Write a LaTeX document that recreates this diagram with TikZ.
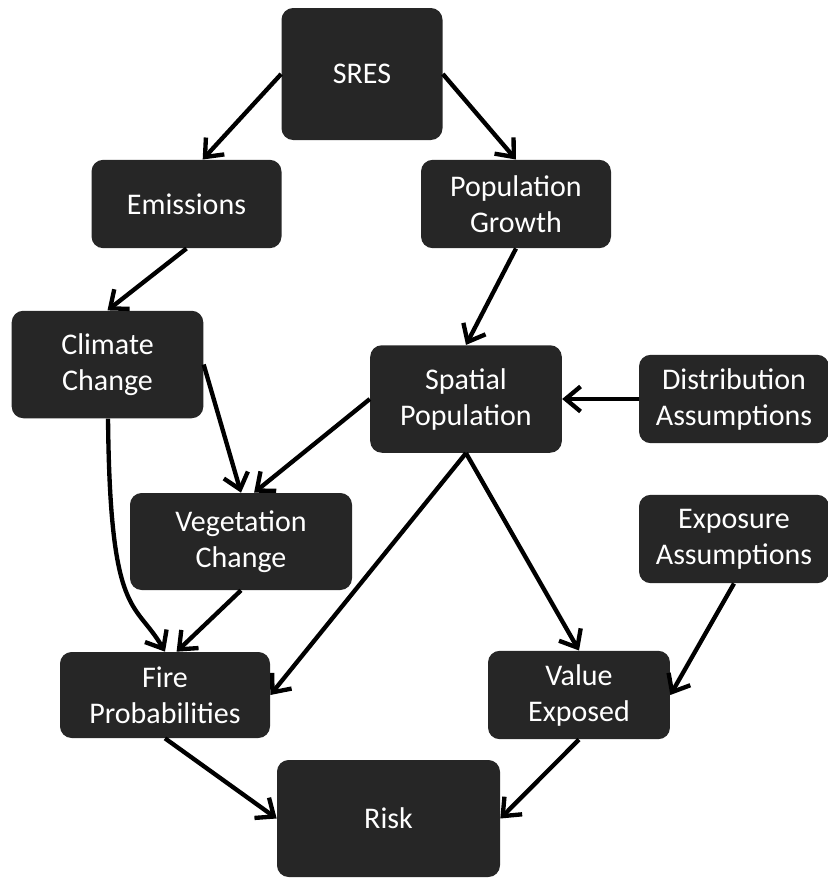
\documentclass[tikz,border=0pt]{standalone}
\usepackage{fontspec}
\setmainfont{Carlito}
\usepackage{tikz}
\usetikzlibrary{arrows,arrows.meta,calc,positioning,shapes}
\tikzstyle{box}=[rectangle, rounded corners=7pt, fill=black!85, text=white, align=center, inner sep=2pt, font=\fontsize{18}{21.6}\selectfont]
\tikzstyle{boxA}=[box, minimum width=114pt, minimum height=53pt]
\tikzstyle{boxB}=[box, minimum width=115pt, minimum height=64.5pt]
\tikzstyle{boxC}=[box, minimum width=130pt, minimum height=56pt]
\tikzset{%
    link/.style={->, >={Straight Barb[length=9pt,width=15pt]}, line width=2.6pt},
  }

\begin{document}
\begin{tikzpicture}[x=0.6pt, y=-0.6pt, node distance=2em]
    \useasboundingbox (0,0) rectangle (828,878);
    \node (sres) [box, minimum width=96.6pt, minimum height=79.2pt] at (362,74) {SRES};
    \node (emis) [boxA] at (186.5,204) {Emissions};
    \node (popg) [boxA, node distance=197.7pt, right of=emis] {Population\\Growth};
    %
    \node (clim) [boxB] at (107.5,364.5) {Climate\\Change};
    \node (spat) [boxB] at (466,399) {Spatial\\Population};
    \node (dist) [boxA, node distance=160.8pt, right of=spat] {Distribution\\Assumptions};
    \node (expo) [boxA, node distance=84pt, below of=dist] {Exposure\\Assumptions};
    %
    \node (veg) [boxC, minimum width=133.2pt, minimum height=58.2pt] at (241,541.5) {Vegetation\\Change};
    \node (fire) [boxC, minimum width=126pt, minimum height=51.6pt] at (165,695) {Fire\\Probabilities};
    \node (val) [boxA, minimum width=109.2pt, node distance=248.4pt, right of=fire] {Value\\Exposed};
    \node (risk) [box, minimum width=133.8pt, minimum height=70.2pt] at (388.5,818.5) {Risk};
    %
    \path[link] (sres.west) edge (emis.70);
    \path[link] (sres.east) edge (popg.north);
    \path[link] (emis.south) edge (clim.north);
    \path[link] (popg.south) edge (spat.north);
    \path[link] (dist.west) edge (spat.east);
    %
    \path[link] (clim.east) edge (veg.north);
    \path[link] (spat.west) edge (veg.75);
    \draw[link] (clim) .. controls (110,620) and (135,600) .. (fire.north);
    \path[link] (veg.south) edge (fire.75);
    \path[link] (spat.south) edge (fire.east);
    \path[link] (spat.south) edge (val.north);
    \path[link] (expo.south) edge (val.east);
    %
    \path[link] (fire.south) edge (risk.west);
    \path[link] (val.south) edge (risk.east);
  \end{tikzpicture}
\end{document}
